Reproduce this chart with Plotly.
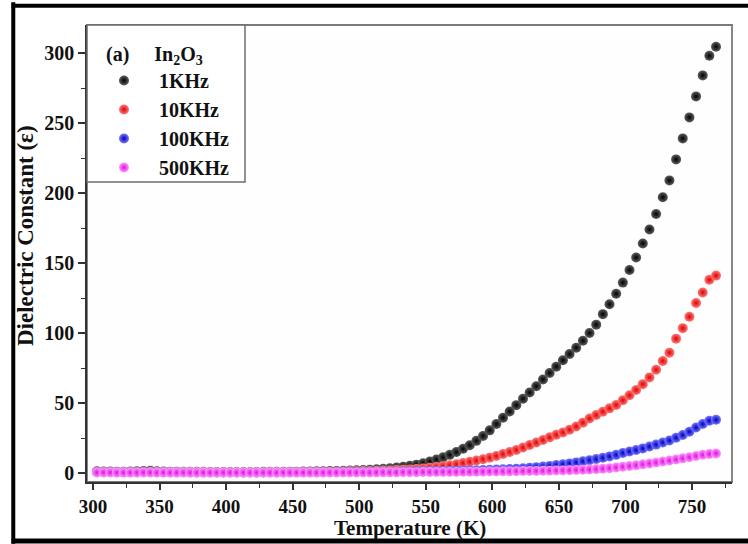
import plotly.graph_objects as go

# Temperature sweep (K)
temperature_K = [
    303, 308, 313, 318, 323, 328, 333, 338, 343, 348,
    353, 358, 363, 368, 373, 378, 383, 388, 393, 398,
    403, 408, 413, 418, 423, 428, 433, 438, 443, 448,
    453, 458, 463, 468, 473, 478, 483, 488, 493, 498,
    503, 508, 513, 518, 523, 528, 533, 538, 543, 548,
    553, 558, 563, 568, 573, 578, 583, 588, 593, 598,
    603, 608, 613, 618, 623, 628, 633, 638, 643, 648,
    653, 658, 663, 668, 673, 678, 683, 688, 693, 698,
    703, 708, 713, 718, 723, 728, 733, 738, 743, 748,
    753, 758, 763, 768,
]

# Dielectric constant at each measuring frequency
eps_1khz = [
    1.2, 1.1, 1.1, 1.0, 1.0, 1.1, 1.2, 1.4, 1.6, 1.3,
    1.1, 1.0, 1.0, 0.9, 0.9, 0.9, 0.9, 0.8, 0.8, 0.8,
    0.8, 0.8, 0.8, 0.8, 0.8, 0.9, 0.9, 0.9, 0.9, 1.0,
    1.0, 1.1, 1.1, 1.2, 1.3, 1.4, 1.5, 1.6, 1.8, 2.0,
    2.2, 2.4, 2.7, 3.0, 3.4, 3.9, 4.5, 5.2, 6.0, 7.0,
    8.2, 9.6, 11.2, 13.0, 15.0, 17.3, 19.9, 23.0, 26.5, 30.5,
    35.0, 39.5, 44.0, 48.5, 53.0, 57.5, 62.0, 66.8, 71.5, 76.0,
    80.5, 85.0, 89.5, 94.5, 100.0, 106.0, 113.5, 120.5, 128.0, 136.0,
    145.0, 154.0, 164.0, 174.0, 185.0, 197.0, 209.0, 224.0, 239.0, 254.0,
    269.0, 284.0, 298.0, 304.5,
]

eps_10khz = [
    0.9, 0.9, 0.8, 0.8, 0.8, 0.8, 0.8, 0.9, 1.0, 0.9,
    0.8, 0.7, 0.7, 0.7, 0.7, 0.7, 0.7, 0.6, 0.6, 0.6,
    0.6, 0.6, 0.6, 0.6, 0.6, 0.6, 0.7, 0.7, 0.7, 0.7,
    0.8, 0.8, 0.8, 0.9, 0.9, 1.0, 1.0, 1.1, 1.2, 1.3,
    1.4, 1.5, 1.6, 1.8, 1.9, 2.1, 2.3, 2.6, 2.9, 3.3,
    3.8, 4.3, 4.9, 5.5, 6.3, 7.1, 8.0, 8.9, 9.9, 11.0,
    12.2, 13.6, 15.0, 16.5, 18.2, 20.0, 21.8, 23.6, 25.5, 27.3,
    29.0, 31.0, 33.3, 36.0, 39.0, 41.4, 43.8, 46.2, 48.6, 52.0,
    55.5, 59.3, 63.5, 68.3, 73.8, 80.0, 86.0, 96.0, 103.5, 111.6,
    121.5, 129.0, 138.0, 141.0,
]

eps_100khz = [
    0.6, 0.6, 0.6, 0.5, 0.5, 0.5, 0.5, 0.6, 0.6, 0.5,
    0.5, 0.5, 0.5, 0.5, 0.4, 0.4, 0.4, 0.4, 0.4, 0.4,
    0.4, 0.4, 0.4, 0.4, 0.4, 0.4, 0.4, 0.4, 0.4, 0.5,
    0.5, 0.5, 0.5, 0.5, 0.6, 0.6, 0.6, 0.7, 0.7, 0.7,
    0.8, 0.8, 0.9, 0.9, 1.0, 1.0, 1.1, 1.1, 1.2, 1.2,
    1.3, 1.4, 1.5, 1.6, 1.7, 1.8, 1.9, 2.0, 2.2, 2.3,
    2.5, 2.7, 2.9, 3.1, 3.4, 3.8, 4.2, 4.6, 5.1, 5.7,
    6.3, 6.9, 7.6, 8.4, 9.2, 10.0, 10.9, 11.9, 13.0, 14.3,
    15.4, 16.4, 17.6, 18.9, 20.3, 21.8, 23.3, 25.2, 27.2, 29.5,
    32.5, 35.0, 37.3, 38.0,
]

eps_500khz = [
    0.4, 0.4, 0.4, 0.3, 0.3, 0.3, 0.3, 0.4, 0.4, 0.3,
    0.3, 0.3, 0.3, 0.3, 0.3, 0.3, 0.3, 0.3, 0.3, 0.3,
    0.3, 0.3, 0.3, 0.3, 0.3, 0.3, 0.3, 0.3, 0.3, 0.3,
    0.3, 0.3, 0.3, 0.3, 0.3, 0.4, 0.4, 0.4, 0.4, 0.4,
    0.4, 0.4, 0.5, 0.5, 0.5, 0.5, 0.6, 0.6, 0.6, 0.7,
    0.7, 0.7, 0.8, 0.8, 0.8, 0.9, 0.9, 1.0, 1.0, 1.1,
    1.1, 1.2, 1.2, 1.3, 1.4, 1.5, 1.5, 1.6, 1.7, 1.8,
    1.9, 2.0, 2.2, 2.3, 2.5, 2.8, 3.1, 3.5, 4.0, 4.5,
    5.0, 5.6, 6.2, 6.8, 7.5, 8.2, 8.9, 9.7, 10.5, 11.3,
    12.2, 13.0, 13.6, 14.0,
]

freq_labels = ["1KHz", "10KHz", "100KHz", "500KHz"]
series_values = [eps_1khz, eps_10khz, eps_100khz, eps_500khz]

# sphere-like markers: light centre fading to a saturated rim
marker_centre = ["#5e5e5e", "#ff7a7a", "#7878ff", "#ff9cff"]
marker_rim = ["#000000", "#e00000", "#0000c0", "#e010e0"]

FONT = "Liberation Serif, Times New Roman, serif"
TXT = "#111111"

fig = go.Figure()
for label, vals, c0, c1 in zip(freq_labels, series_values, marker_centre, marker_rim):
    fig.add_trace(go.Scatter(
        x=temperature_K, y=vals, mode="markers", name=label,
        legendgroup=label,
        marker=dict(size=10, color=c0, gradient=dict(type="radial", color=c1),
                    line=dict(width=0)),
    ))

axis_common = dict(
    showgrid=False, zeroline=False, showline=True, linecolor="#333333", linewidth=1.5,
    ticks="outside", ticklen=7, tickwidth=1.5, tickcolor="#333333",
    minor=dict(ticks="outside", ticklen=4, tickwidth=1.2, tickcolor="#333333", dtick=25),
)

fig.update_xaxes(range=[295.5, 780], tick0=300, dtick=50, ticklen=6,
                 **{k: v for k, v in axis_common.items() if k != "ticklen"},
                 tickfont=dict(family=FONT, size=19, color=TXT, weight="bold"))
fig.update_yaxes(range=[-6.4, 320], tick0=0, dtick=50, **axis_common,
                 tickfont=dict(family=FONT, size=20, color=TXT, weight="bold"))

# frame of the plotting area, legend box, and the outer black border of the page
shapes = [
    dict(type="rect", xref="paper", yref="paper", x0=0, x1=1, y0=0, y1=1,
         line=dict(color="#7a7a7a", width=1.8), layer="below"),
    dict(type="rect", xref="paper", yref="paper",
         x0=0, x1=(245 - 87) / 645, y0=(482 - 182) / 457, y1=1,
         line=dict(color="#6e6e6e", width=1.5), fillcolor="rgba(255,255,255,0.9)"),
    dict(type="line", xref="paper", yref="paper", x0=-0.1143, x1=-0.1143, y0=-0.135, y1=1.05,
         line=dict(color="#000000", width=4)),
    dict(type="line", xref="paper", yref="paper", x0=-0.117, x1=(748 - 87) / 645, y0=1.0422, y1=1.0422,
         line=dict(color="#000000", width=4)),
    dict(type="line", xref="paper", yref="paper", x0=-0.117, x1=(748 - 87) / 645, y0=-0.1291, y1=-0.1291,
         line=dict(color="#000000", width=5)),
]

annotations = [
    dict(text="Dielectric Constant (ε)", xref="paper", yref="paper",
         x=(25 - 87) / 645, y=(482 - 236) / 457, textangle=-90, showarrow=False,
         xanchor="center", yanchor="middle",
         font=dict(family=FONT, size=23, color=TXT, weight="bold")),
    dict(text="Temperature (K)", xref="paper", yref="paper",
         x=0.5, y=(482 - 528) / 457, showarrow=False,
         xanchor="center", yanchor="middle",
         font=dict(family=FONT, size=21, color=TXT, weight="bold")),
]

fig.update_layout(
    width=748, height=544,
    margin=dict(l=87, r=16, t=25, b=62),
    paper_bgcolor="#ffffff", plot_bgcolor="#fefefe",
    shapes=shapes, annotations=annotations,
    showlegend=True,
    legend=dict(
        x=2 / 645, y=1 - 10 / 457, xanchor="left", yanchor="top",
        borderwidth=0, bgcolor="rgba(0,0,0,0)",
        font=dict(family=FONT, size=20, color=TXT, weight="bold"),
        title=dict(text="&nbsp;&nbsp;&nbsp;(a)&nbsp;&nbsp;&nbsp;&nbsp;&nbsp;In<sub>2</sub>O<sub>3</sub>",
                   font=dict(family=FONT, size=20, color=TXT, weight="bold")),
        itemwidth=60, tracegroupgap=4, traceorder="normal",
    ),
)

fig.write_html("out.html")
